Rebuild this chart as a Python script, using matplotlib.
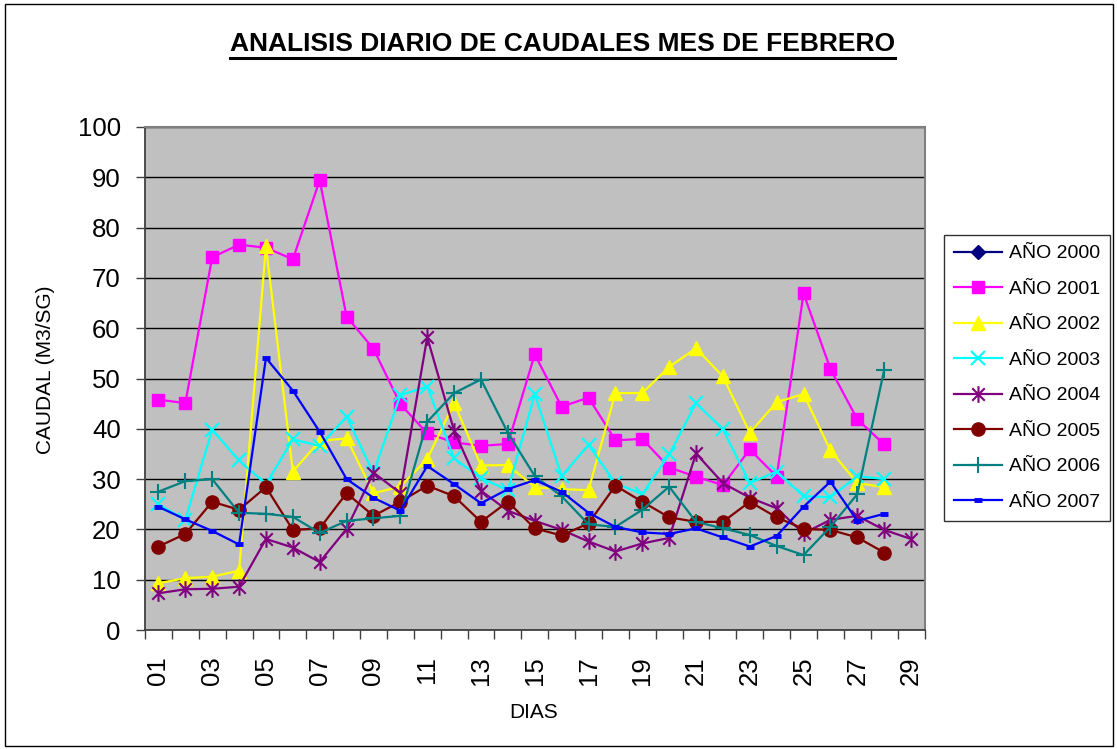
import matplotlib
matplotlib.use("Agg")
import matplotlib.pyplot as plt
from matplotlib.path import Path
from matplotlib.patches import Rectangle
from matplotlib.lines import Line2D

plt.rcParams['font.family'] = ['Liberation Sans', 'DejaVu Sans']

# datos (caudal diario en febrero, m3/s)
dias = list(range(1, 30))
etiquetas = ["%02d" % d for d in dias]

a2000 = []
a2001 = [45.8, 45.1, 74.1, 76.6, 76.0, 73.7, 89.4, 62.3, 55.9, 44.9, 39.1, 37.3, 36.6, 37.0,
         54.8, 44.4, 46.2, 37.7, 38.0, 32.3, 30.5, 28.8, 35.9, 30.5, 66.9, 51.9, 41.9, 36.9]
a2002 = [9.3, 10.3, 10.6, 11.8, 76.3, 31.5, 37.6, 38.1, 27.2, 28.5, 34.0, 45.1, 32.7, 32.8,
         28.4, 28.0, 27.8, 47.1, 47.1, 52.3, 56.0, 50.4, 39.2, 45.3, 46.9, 35.7, 29.2, 28.4]
a2003 = [25.0, 21.9, 39.8, 33.7, 29.0, 37.9, 36.6, 42.4, 31.2, 46.7, 48.4, 34.1, 30.2, 27.8,
         46.9, 30.6, 36.8, 29.2, 27.0, 34.9, 45.1, 39.9, 29.2, 31.5, 26.6, 26.4, 30.6, 30.0]
a2004 = [7.3, 8.1, 8.2, 8.6, 18.1, 16.4, 13.5, 20.1, 31.3, 27.2, 58.2, 39.6, 27.7, 23.7,
         21.7, 19.9, 17.6, 15.6, 17.2, 18.3, 35.1, 29.2, 26.3, 24.2, 19.2, 21.9, 22.7, 19.9, 18.1]
a2005 = [16.6, 19.1, 25.5, 23.9, 28.4, 19.9, 20.2, 27.2, 22.7, 25.5, 28.7, 26.6, 21.5, 25.5,
         20.2, 18.8, 21.2, 28.7, 25.5, 22.4, 21.5, 21.5, 25.5, 22.4, 20.1, 19.9, 18.4, 15.4]
a2006 = [27.5, 29.6, 30.0, 23.3, 23.1, 22.5, 19.3, 21.7, 22.2, 22.7, 41.4, 47.1, 49.8, 39.2,
         30.6, 26.6, 21.0, 20.5, 23.9, 28.5, 21.5, 20.2, 18.9, 16.7, 14.9, 20.5, 27.0, 51.7]
a2007 = [24.5, 22.0, 19.7, 17.0, 54.1, 47.6, 39.4, 30.0, 26.3, 23.7, 32.6, 29.0, 25.2, 28.0,
         29.8, 27.5, 23.3, 20.5, 19.4, 19.1, 20.2, 18.4, 16.6, 18.7, 24.5, 29.5, 21.7, 23.1]

series = [
    ("AÑO 2000", a2000, "#000080"),
    ("AÑO 2001", a2001, "#FF00FF"),
    ("AÑO 2002", a2002, "#FFFF00"),
    ("AÑO 2003", a2003, "#00FFFF"),
    ("AÑO 2004", a2004, "#800080"),
    ("AÑO 2005", a2005, "#800000"),
    ("AÑO 2006", a2006, "#008080"),
    ("AÑO 2007", a2007, "#0000FF"),
]

# marcador estrella tipo excel (x + linea vertical)
estrella = Path([(0, -1), (0, 1), (-0.75, -0.75), (0.75, 0.75), (-0.75, 0.75), (0.75, -0.75)],
                [Path.MOVETO, Path.LINETO, Path.MOVETO, Path.LINETO, Path.MOVETO, Path.LINETO])

estilos = [
    dict(marker="D", ms=7),
    dict(marker="s", ms=8.5),
    dict(marker="^", ms=10),
    dict(marker="x", ms=10, mew=1.5),
    dict(marker=estrella, ms=12, mew=1.5),
    dict(marker="o", ms=9.5),
    dict(marker="+", ms=11, mew=1.5),
    dict(marker="_", ms=6, mew=3.5),
]

fig = plt.figure(figsize=(11.17, 7.49), dpi=100)
ax = fig.add_axes([145/1117, 1-630/749, (924.5-145)/1117, (630-127)/749])
ax.set_facecolor("#C0C0C0")

for (nombre, vals, col), st in zip(series, estilos):
    ax.plot(dias[:len(vals)], vals, color=col, lw=1.6, label=nombre, zorder=3, **st)

ax.set_xlim(0.5, 29.5)
ax.set_ylim(0, 100)
ax.set_yticks(range(0, 101, 10))
ax.yaxis.grid(True, color="black", lw=1.0)
ax.set_axisbelow(True)

ax.set_xticks([d + 0.5 for d in range(0, 30)])
ax.set_xticklabels([])
ax.set_xticks(dias[::2], minor=True)
ax.set_xticklabels(etiquetas[::2], minor=True, rotation=90, fontsize=18.5)
ax.tick_params(axis="x", which="major", direction="out", length=6.5, width=1, color="#404040")
ax.tick_params(axis="x", which="minor", length=0, pad=19)
ax.tick_params(axis="y", direction="out", length=6.5, width=1, color="#404040", labelsize=18.5, pad=11)

for s in ["left", "bottom"]:
    ax.spines[s].set_color("#404040")
    ax.spines[s].set_linewidth(1.3)
for s in ["top", "right"]:
    ax.spines[s].set_color("#808080")
    ax.spines[s].set_linewidth(1.5)

fig.text(46/1117, 1-370/749, "CAUDAL (M3/SG)", rotation=90, ha="center", va="center", fontsize=15)
fig.text(534/1117, 1-712/749, "DIAS", ha="center", va="center", fontsize=15)

titulo = fig.text(562.5/1117, 1-44/749, "ANALISIS DIARIO DE CAUDALES MES DE FEBRERO",
                  ha="center", va="center", fontsize=19, fontweight="bold")
fig.canvas.draw()
bb = titulo.get_window_extent().transformed(fig.transFigure.inverted())
fig.add_artist(Line2D([bb.x0, bb.x1], [bb.y0 - 2/749, bb.y0 - 2/749], color="black", lw=2.2,
                      transform=fig.transFigure))

leg = fig.legend(loc="upper left", bbox_to_anchor=(944/1117, 1-235/749), bbox_transform=fig.transFigure,
                 borderaxespad=0, fontsize=14, frameon=True, fancybox=False, handlelength=2.5,
                 labelspacing=0.92, handletextpad=0.35, borderpad=0.5)
leg.get_frame().set_edgecolor("black")
leg.get_frame().set_linewidth(1.0)

fig.add_artist(Rectangle((5/1117, 3/749), 1108/1117, 742/749, transform=fig.transFigure,
                         fill=False, edgecolor="black", lw=1.0))

fig.savefig("out.png", dpi=100)
